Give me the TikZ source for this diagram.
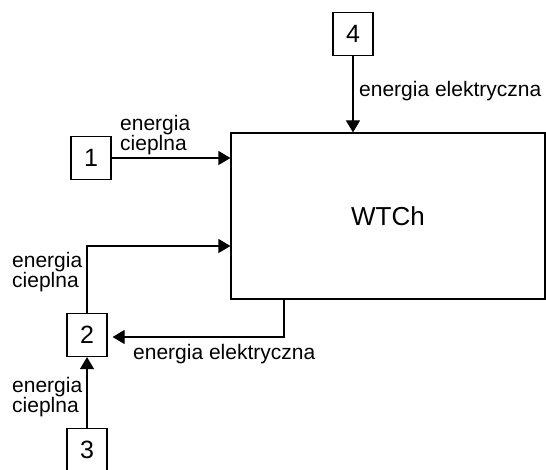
\documentclass[tikz,border=0pt]{standalone}
\usepackage{fontspec}
\setmainfont{Liberation Sans}
\usetikzlibrary{positioning, arrows.meta, calc}

\tikzset{
  numbox/.style={draw, line width=1.2pt, minimum width=40pt, minimum height=43pt, inner sep=0pt, font=\fontsize{25}{25}\selectfont},
  flowlabel/.style={anchor=west, align=left, inner sep=0pt, font=\fontsize{21}{19}\selectfont},
  flow/.style={line width=1.2pt, -{Triangle[length=12pt,width=14pt]}}
}

\begin{document}
\begin{tikzpicture}[x=1pt,y=-1pt]
          \useasboundingbox (0,0) rectangle (546,470);
          % main block
          \node[draw, line width=1.2pt, minimum width=314pt, minimum height=166pt, inner sep=0pt, font=\fontsize{26}{26}\selectfont] (wtch) at (388,216) {WTCh};
          % sources
          \node[numbox] (box1) at (91,158) {1};
          \node[numbox] (box2) at (87,335) {2};
          \node[numbox] (box3) at (87,450) {3};
          \node[numbox] (box4) at (353,34) {4};
          \coordinate (up2) at (87,246);
          \coordinate (dn5) at (284,337);
          \draw[flow] (box1.east) -- (box1.east -| wtch.west);
          \draw[flow] (box4.south) -- (box4.south |- wtch.north);
          \draw[flow] (box2.north) -- (up2) -- (up2 -| wtch.west);
          \draw[flow, shorten >=5pt] (dn5 |- wtch.south) -- (dn5) -- (box2.east |- dn5);
          \draw[flow] (box3.north) -- (box2.south);
          % labels
          \node[flowlabel] (lab1) at (120,135) {energia\\cieplna};
          \node[flowlabel] (lab2) at (12,272) {energia\\cieplna};
          \node[flowlabel] (lab3) at (12,397) {energia\\cieplna};
          \node[flowlabel] (lab4) at (359,91) {energia elektryczna};
          \node[flowlabel] (lab5) at (133,354) {energia elektryczna};
        \end{tikzpicture}
\end{document}
